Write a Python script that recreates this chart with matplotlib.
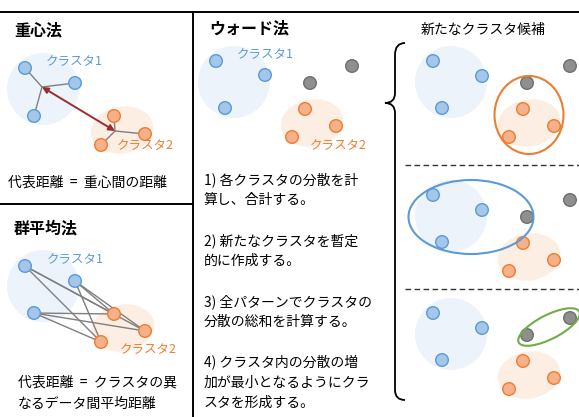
import matplotlib
matplotlib.use('Agg')
import matplotlib.pyplot as plt
from matplotlib.patches import Circle, Ellipse, FancyArrowPatch
from matplotlib.path import Path
from matplotlib.patches import PathPatch

plt.rcParams['font.family'] = ['Noto Sans CJK JP', 'DejaVu Sans']

# colours
blue_fill, blue_edge = '#a4c6ea', '#5b9bd5'
orange_fill, orange_edge = '#f6b18a', '#ed7d31'
gray_fill, gray_edge = '#8f8f8f', '#6f6f6f'
blue_bg, orange_bg = '#edf3fb', '#fdeee3'

# point positions (pixels)
cent_blue = [(25, 68), (75, 83), (34, 116)]
cent_orange = [(114, 116), (145, 134), (101, 145)]
cent_mid = [(42, 87), (115, 131)]

avg_blue = [(25, 266), (75, 281), (34, 313)]
avg_orange = [(114, 314), (145, 331), (101, 342)]

ward_blue = [(216, 61), (265, 75), (225, 108)]
ward_orange = [(305, 109), (336, 126), (292, 137)]
ward_gray = [(310, 83), (352, 66)]

cand_offsets = [0, 134, 252]
cand_blue = [(433, 61), (482, 76), (442, 108)]
cand_orange = [(523, 109), (554, 126), (509, 137)]
cand_gray = [(527, 83), (570, 66)]

steps = ['1) 各クラスタの分散を計', '算し、合計する。', '',
         '2) 新たなクラスタを暫定', '的に作成する。', '',
         '3) 全パターンでクラスタの', '分散の総和を計算する。', '',
         '4) クラスタ内の分散の増', '加が最小となるようにクラ', 'スタを形成する。']

fig = plt.figure(figsize=(5.79, 4.17), dpi=100)
ax = fig.add_axes([0, 0, 1, 1])
ax.set_xlim(0, 579)
ax.set_ylim(417, 0)
ax.axis('off')


def dots(pts, fc, ec, dy=0):
    for x, y in pts:
        ax.add_patch(Circle((x, y + dy), 6.3, fc=fc, ec=ec, lw=1, zorder=5))


def clusters(cx1, cy1, cx2, cy2):
    ax.add_patch(Circle((cx1, cy1), 36, fc=blue_bg, ec='none', zorder=1))
    ax.add_patch(Ellipse((cx2, cy2), 63, 47, angle=-10, fc=orange_bg, ec='none', zorder=1))


# frame lines
ax.plot([0, 579], [12, 12], color='black', lw=1.4)
ax.plot([193, 193], [12, 417], color='black', lw=1.4)
ax.plot([0, 193], [204, 204], color='black', lw=1.4)

# 重心法
ax.text(14, 30, '重心法', fontsize=11.5, fontweight='bold', va='center')
clusters(43, 89, 122, 130)
for x, y in cent_blue:
    ax.plot([x, cent_mid[0][0]], [y, cent_mid[0][1]], color='#7f7f7f', lw=1, zorder=3)
for x, y in cent_orange:
    ax.plot([x, cent_mid[1][0]], [y, cent_mid[1][1]], color='#7f7f7f', lw=1, zorder=3)
ax.add_patch(FancyArrowPatch(cent_mid[0], cent_mid[1], arrowstyle='<|-|>', mutation_scale=9,
                             color='#9b2d30', lw=1.4, shrinkA=0, shrinkB=0, zorder=4))
dots(cent_blue, blue_fill, blue_edge)
dots(cent_orange, orange_fill, orange_edge)
ax.text(46, 62, 'クラスタ1', fontsize=9, color=blue_edge, va='center')
ax.text(117, 146, 'クラスタ2', fontsize=9, color=orange_edge, va='center')
ax.text(8, 183, '代表距離  =  重心間の距離', fontsize=10, va='center')

# 群平均法
ax.text(14, 228, '群平均法', fontsize=11.5, fontweight='bold', va='center')
clusters(43, 286, 123, 328)
for bx, by in avg_blue:
    for ox, oy in avg_orange:
        ax.plot([bx, ox], [by, oy], color='#7f7f7f', lw=1, zorder=3)
dots(avg_blue, blue_fill, blue_edge)
dots(avg_orange, orange_fill, orange_edge)
ax.text(47, 260, 'クラスタ1', fontsize=9, color=blue_edge, va='center')
ax.text(120, 350, 'クラスタ2', fontsize=9, color=orange_edge, va='center')
ax.text(18, 383, '代表距離  =  クラスタの異', fontsize=10, va='center')
ax.text(18, 404, 'なるデータ間平均距離', fontsize=10, va='center')

# ウォード法
ax.text(209, 28, 'ウォード法', fontsize=11.5, fontweight='bold', va='center')
clusters(234, 82, 312, 123)
dots(ward_blue, blue_fill, blue_edge)
dots(ward_orange, orange_fill, orange_edge)
dots(ward_gray, gray_fill, gray_edge)
ax.text(237, 55, 'クラスタ1', fontsize=9, color=blue_edge, va='center')
ax.text(310, 146, 'クラスタ2', fontsize=9, color=orange_edge, va='center')
for i, line in enumerate(steps):
    ax.text(204, 180 + i * 20.3, line, fontsize=10, va='center')

# 新たなクラスタ候補
ax.text(483, 30, '新たなクラスタ候補', fontsize=10, ha='center', va='center')
for dy in cand_offsets:
    clusters(451, 82 + dy, 529, 123 + dy)
    dots(cand_blue, blue_fill, blue_edge, dy)
    dots(cand_orange, orange_fill, orange_edge, dy)
    dots(cand_gray, gray_fill, gray_edge, dy)
ax.add_patch(Ellipse((529, 115), 69, 78, fc='none', ec=orange_edge, lw=1.5, zorder=6))
ax.add_patch(Ellipse((471, 217), 125, 74, fc='none', ec=blue_edge, lw=1.5, zorder=6))
ax.add_patch(Ellipse((549, 327), 68, 24, angle=-27, fc='none', ec='#70ad47', lw=1.5, zorder=6))
for y in [165, 289]:
    ax.plot([405, 579], [y, y], color='#333333', lw=1, ls=(0, (4, 2.5)))

# brace
verts = [(405, 43), (395, 43), (395, 55), (395, 93),
         (395, 103), (385, 103), (395, 103), (395, 113),
         (395, 390), (395, 400), (405, 400)]
codes = [Path.MOVETO, Path.CURVE3, Path.CURVE3, Path.LINETO,
         Path.CURVE3, Path.CURVE3, Path.CURVE3, Path.CURVE3,
         Path.LINETO, Path.CURVE3, Path.CURVE3]
ax.add_patch(PathPatch(Path(verts, codes), fc='none', ec='black', lw=1.3))

fig.savefig('out.png', dpi=100)
